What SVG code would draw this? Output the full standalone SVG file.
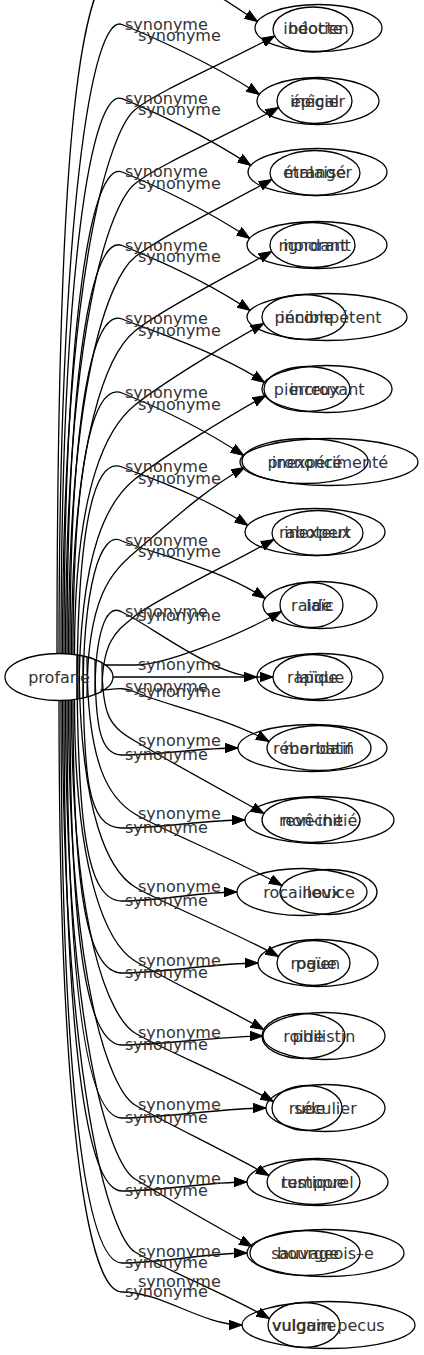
<svg xmlns="http://www.w3.org/2000/svg" width="424" height="1355" viewBox="0 0 424 1355">
<defs>
<style>
text{font-family:"DejaVu Sans",sans-serif;font-size:16px;fill:#333}
.n{text-anchor:middle}
ellipse{fill:none;stroke:#000;stroke-width:1.3}
.e path{fill:none;stroke:#000;stroke-width:1.3}
</style>
<marker id="ah" viewBox="0 0 13 10" refX="13" refY="5" markerWidth="13" markerHeight="10" orient="auto" markerUnits="userSpaceOnUse"><path d="M0,0.3 L13,5 L0,9.7Z" fill="#000" stroke="#000"/></marker>
</defs>
<rect width="424" height="1355" fill="#fff"/>
<g class="e" id="edges" marker-end="url(#ah)">
<path d="M57,654 C57,180 75,-30 122,-40 C160,-45 212.5,-8.5 257.5,21.5"/>
<path d="M59,654 C59,213.4 92,12.5 122,24.5 C152,36.5 214.4,64.5 259.4,94.5"/>
<path d="M61,654 C61,265.3 92,86.7 122,98.7 C152,110.7 205.8,135.5 250.8,165.5"/>
<path d="M64,654 C64,316.6 92,160 122,172 C152,184 204.8,208.5 249.8,238.5"/>
<path d="M67,654 C67,368 92,233.5 122,245.5 C152,257.5 205.2,280.5 250.2,310.5"/>
<path d="M70,654 C70,419.5 92,307 122,319 C152,331 219.6,352.5 264.6,382.5"/>
<path d="M73,654 C73,471.3 92,381 122,393 C152,405 198.6,425.5 243.6,455.5"/>
<path d="M77,699 C77,536.6 92,455 122,467 C152,479 202.8,495.5 247.8,525.5"/>
<path d="M83,698 C83,588 100,529 122,541 C152,553 220.3,568.5 265.3,598.5"/>
<path d="M95,694.5 C95,636.8 105,602 122,612 C150,625 215,677 257,677"/>
<path d="M62.5,654 C62.5,273 110,129.7 135,109.7 C160,89.7 229.6,61 274.6,36"/>
<path d="M65.5,654 C65.5,324.8 110,203.7 135,183.7 C160,163.7 233.5,132.5 278.5,107.5"/>
<path d="M68.5,654 C68.5,376 110,277 135,257 C160,237 226.8,204.5 271.8,179.5"/>
<path d="M71.5,654 C71.5,428 110,351 135,331 C160,311 226.7,276.5 271.7,251.5"/>
<path d="M74.5,654 C74.5,479.7 110,425 135,405 C160,385 218.7,348.5 263.7,323.5"/>
<path d="M79,698.8 C79,545 110,499 135,479 C160,459 220.7,420.5 265.7,395.5"/>
<path d="M87,697 C87,595.5 112,572 135,552 C160,532 199.5,492.5 244.5,467.5"/>
<path d="M102,691 C102,638.5 118,630 135,616 C155,600 228.8,564.5 273.8,539.5"/>
<path d="M105,665 C115,665 125,665 135,665 C165,665 236.3,636.5 281.3,611.5"/>
<path d="M113,677 L273,677"/>
<path d="M95,659.5 C95,726.4 100,755 122,755 C162,755 198,748 238,748"/>
<path d="M83,656 C83,776.4 87,828 122,828 C162,828 205,820 245,820"/>
<path d="M77,655 C77,827.2 87,901 122,901 C162,901 197,892 237,892"/>
<path d="M73,700 C73,891 87,973 122,973 C162,973 218,963 258,963"/>
<path d="M70,700 C70,941.5 87,1045 122,1045 C162,1045 223,1036 263,1036"/>
<path d="M67,700 C67,992.6 87,1118 122,1118 C162,1118 226,1108 266,1108"/>
<path d="M64,700 C64,1043.7 87,1191 122,1191 C162,1191 207,1182 247,1182"/>
<path d="M61,700 C61,1094 87,1263 122,1263 C162,1263 207,1253 247,1253"/>
<path d="M59,700 C59,1114.4 87,1292 122,1292 C162,1292 202,1325 242,1325"/>
<path d="M100.6,690 C112,690 122,686 135,692 C158,703 224.1,716.5 269.1,741.5"/>
<path d="M102,663 C102,717.6 110,726 135,741 C160,756 219,788.5 264,813.5"/>
<path d="M87,657 C87,767 110,799 135,814 C160,829 236.9,860.5 281.9,885.5"/>
<path d="M79,655 C79,817.4 110,872 135,887 C160,902 233.5,931.5 278.5,956.5"/>
<path d="M74.5,700 C74.5,882.7 110,946 135,961 C160,976 218.7,1004.5 263.7,1029.5"/>
<path d="M71.5,700 C71.5,933.1 110,1018 135,1033 C160,1048 228.4,1076.5 273.4,1101.5"/>
<path d="M68.5,700 C68.5,983.5 110,1090 135,1105 C160,1120 223.9,1150.5 268.9,1175.5"/>
<path d="M65.5,700 C65.5,1035.3 110,1164 135,1179 C160,1194 207.2,1221.5 252.2,1246.5"/>
<path d="M62.5,700 C62.5,1086.4 110,1237 135,1252 C160,1267 224.4,1293.5 269.4,1318.5"/>
</g>
<g id="labels">
<text x="125" y="29.5">synonyme</text><text x="138" y="41">synonyme</text>
<text x="125" y="103.7">synonyme</text><text x="138" y="114.7">synonyme</text>
<text x="125" y="177">synonyme</text><text x="138" y="188.7">synonyme</text>
<text x="125" y="250.5">synonyme</text><text x="138" y="262">synonyme</text>
<text x="125" y="324">synonyme</text><text x="138" y="336">synonyme</text>
<text x="125" y="398">synonyme</text><text x="138" y="410">synonyme</text>
<text x="125" y="472">synonyme</text><text x="138" y="484">synonyme</text>
<text x="125" y="546">synonyme</text><text x="138" y="557">synonyme</text>
<text x="125" y="617">synonyme</text><text x="138" y="621">synonyme</text>
<text x="138" y="670">synonyme</text><text x="125" y="692">synonyme</text><text x="138" y="697">synonyme</text>
<text x="125" y="760">synonyme</text><text x="138" y="746">synonyme</text>
<text x="125" y="833">synonyme</text><text x="138" y="819">synonyme</text>
<text x="125" y="906">synonyme</text><text x="138" y="892">synonyme</text>
<text x="125" y="978">synonyme</text><text x="138" y="966">synonyme</text>
<text x="125" y="1050">synonyme</text><text x="138" y="1038">synonyme</text>
<text x="125" y="1123">synonyme</text><text x="138" y="1110">synonyme</text>
<text x="125" y="1196">synonyme</text><text x="138" y="1184">synonyme</text>
<text x="125" y="1268">synonyme</text><text x="138" y="1257">synonyme</text>
<text x="125" y="1297">synonyme</text><text x="138" y="1287">synonyme</text>
</g>
<g id="profane"><ellipse cx="59" cy="677" rx="54" ry="23.5"/><text class="n" x="59" y="682.5">profane</text></g>
<g id="r0"><ellipse cx="318.5" cy="28" rx="63.5" ry="23.5"/><ellipse cx="313" cy="29.5" rx="40" ry="22.5"/><text class="n" x="318.5" y="33.5">béotien</text><text class="n" x="313" y="33.5">indocte</text></g>
<g id="r1"><ellipse cx="318" cy="101" rx="61" ry="23.5"/><ellipse cx="314.5" cy="101" rx="37.5" ry="22.5"/><text class="n" x="318" y="106.5">épicier</text><text class="n" x="314.5" y="106.5">inégal</text></g>
<g id="r2"><ellipse cx="317.5" cy="172" rx="69.5" ry="23.5"/><ellipse cx="315" cy="173" rx="45" ry="22.5"/><text class="n" x="317.5" y="177.5">étranger</text><text class="n" x="315" y="177.5">malaisé</text></g>
<g id="r3"><ellipse cx="317" cy="245" rx="70" ry="23.5"/><ellipse cx="312.5" cy="245" rx="42.5" ry="22.5"/><text class="n" x="317" y="250.5">ignorant</text><text class="n" x="312.5" y="250.5">mordant</text></g>
<g id="r4"><ellipse cx="327" cy="317" rx="80" ry="23.5"/><ellipse cx="304" cy="317" rx="42" ry="22.5"/><text class="n" x="331" y="322.5">incompétent</text><text class="n" x="304" y="322.5">pénible</text></g>
<g id="r5"><ellipse cx="327" cy="389" rx="65" ry="23.5"/><ellipse cx="307" cy="389" rx="43" ry="22.5"/><text class="n" x="327" y="394.5">incroyant</text><text class="n" x="307" y="394.5">pierreux</text></g>
<g id="r6"><ellipse cx="329" cy="462" rx="89" ry="23.5"/><ellipse cx="305" cy="461" rx="63" ry="22.5"/><text class="n" x="330" y="467.5">inexpérimenté</text><text class="n" x="305" y="467.5">prononcé</text></g>
<g id="r7"><ellipse cx="315" cy="532" rx="70" ry="23.5"/><ellipse cx="317.5" cy="533" rx="45.5" ry="22.5"/><text class="n" x="317.5" y="537.5">inexpert</text><text class="n" x="315" y="537.5">raboteux</text></g>
<g id="r8"><ellipse cx="320" cy="605" rx="57" ry="23.5"/><ellipse cx="311.5" cy="605" rx="31.5" ry="22.5"/><text class="n" x="320" y="610.5">laïc</text><text class="n" x="311.5" y="610.5">raide</text></g>
<g id="r9"><ellipse cx="320" cy="677" rx="63" ry="23.5"/><ellipse cx="312.5" cy="677" rx="39.5" ry="22.5"/><text class="n" x="320" y="682.5">laïque</text><text class="n" x="312.5" y="682.5">rapide</text></g>
<g id="r10"><ellipse cx="312.5" cy="748" rx="74.5" ry="23.5"/><ellipse cx="319" cy="748" rx="52" ry="22.5"/><text class="n" x="319" y="753.5">mondain</text><text class="n" x="312.5" y="753.5">rébarbatif</text></g>
<g id="r11"><ellipse cx="319.5" cy="820" rx="74.5" ry="23.5"/><ellipse cx="311" cy="820" rx="49" ry="22.5"/><text class="n" x="319.5" y="825.5">non-initié</text><text class="n" x="311" y="825.5">revêche</text></g>
<g id="r12"><ellipse cx="302" cy="892" rx="65" ry="23.5"/><ellipse cx="328.5" cy="892" rx="48.5" ry="22.5"/><text class="n" x="328.5" y="897.5">novice</text><text class="n" x="302" y="897.5">rocailleux</text></g>
<g id="r13"><ellipse cx="318" cy="963" rx="60" ry="23.5"/><ellipse cx="313.5" cy="963" rx="36.5" ry="22.5"/><text class="n" x="318" y="968.5">païen</text><text class="n" x="313.5" y="968.5">rogue</text></g>
<g id="r14"><ellipse cx="324" cy="1036" rx="61" ry="23.5"/><ellipse cx="303.5" cy="1036" rx="41.5" ry="22.5"/><text class="n" x="324" y="1041.5">philistin</text><text class="n" x="303.5" y="1041.5">roide</text></g>
<g id="r15"><ellipse cx="325.5" cy="1108" rx="59.5" ry="23.5"/><ellipse cx="307" cy="1108" rx="35" ry="22.5"/><text class="n" x="325.5" y="1113.5">séculier</text><text class="n" x="307" y="1113.5">rude</text></g>
<g id="r16"><ellipse cx="317.5" cy="1182" rx="70.5" ry="23.5"/><ellipse cx="313.5" cy="1182" rx="46.5" ry="22.5"/><text class="n" x="317.5" y="1187.5">temporel</text><text class="n" x="313.5" y="1187.5">rustique</text></g>
<g id="r17"><ellipse cx="325.5" cy="1253" rx="78.5" ry="23.5"/><ellipse cx="305" cy="1253" rx="55" ry="22.5"/><text class="n" x="325.5" y="1258.5">bourgeois–e</text><text class="n" x="305" y="1258.5">sauvage</text></g>
<g id="r18"><ellipse cx="328.5" cy="1325" rx="86.5" ry="23.5"/><ellipse cx="304" cy="1325" rx="36" ry="22.5"/><text class="n" x="328.5" y="1330.5">vulgum pecus</text><text class="n" x="304" y="1330.5">vulgaire</text></g>
</svg>
